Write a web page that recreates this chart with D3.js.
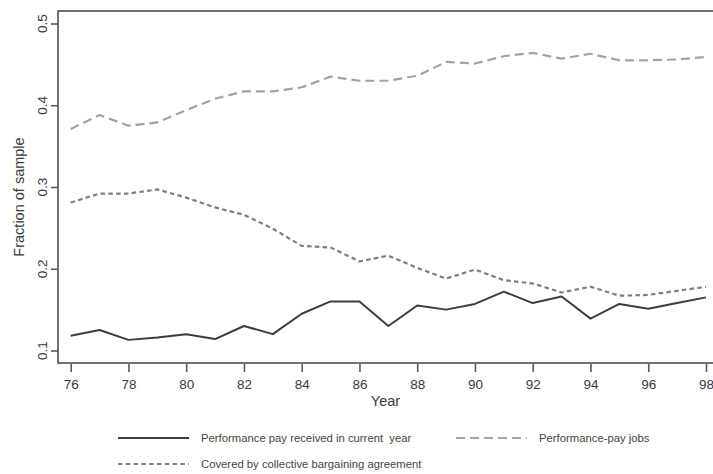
<!DOCTYPE html>
<html>
<head>
<meta charset="utf-8">
<script src="https://cdn.jsdelivr.net/npm/d3@7"></script>
<style>
  html, body { margin: 0; padding: 0; background: #fff; }
  svg { display: block; }
  text { font-family: "Liberation Sans", Arial, Helvetica, sans-serif; }
</style>
</head>
<body>
<svg id="chart" width="713" height="474"></svg>
<script>
// Survey years (19xx)
const years = [76, 77, 78, 79, 80, 81, 82, 83, 84, 85, 86, 87, 88, 89, 90, 91, 92, 93, 94, 95, 96, 97, 98];

// Share of workers in performance-pay jobs
const jobsShare = [0.371, 0.388, 0.375, 0.379, 0.394, 0.408, 0.417, 0.417, 0.422, 0.435, 0.430, 0.430, 0.436,
                   0.453, 0.451, 0.460, 0.464, 0.457, 0.463, 0.455, 0.455, 0.456, 0.459];

// Share covered by a collective bargaining agreement
const unionShare = [0.281, 0.292, 0.292, 0.297, 0.287, 0.275, 0.266, 0.249, 0.228, 0.226, 0.209, 0.216, 0.201,
                    0.188, 0.199, 0.186, 0.182, 0.171, 0.178, 0.167, 0.168, 0.173, 0.178];

// Share receiving performance pay in the current year
const paidShare = [0.118, 0.125, 0.113, 0.116, 0.120, 0.114, 0.130, 0.120, 0.145, 0.160, 0.160, 0.130, 0.155,
                   0.150, 0.157, 0.172, 0.158, 0.166, 0.139, 0.157, 0.151, 0.158, 0.165];

const xTicks = [76, 78, 80, 82, 84, 86, 88, 90, 92, 94, 96, 98];
const yTicks = [0.1, 0.2, 0.3, 0.4, 0.5];

const seriesLabels = [
  "Performance pay received in current  year",
  "Performance-pay jobs",
  "Covered by collective bargaining agreement"
];

const svg = d3.select("#chart");

// Plot region frame and data area
const frame = { left: 58, right: 716, top: 11, bottom: 363 };
const x = d3.scaleLinear().domain([76, 98]).range([70.7, 706]);
const y = d3.scaleLinear().domain([0.1, 0.5]).range([350.5, 23.5]);

const styles = [
  { color: "#3d3d3d", width: 2.0, dash: null },
  { color: "#a3a3a3", width: 2.2, dash: "9,5" },
  { color: "#7d7d7d", width: 2.2, dash: "4.5,3.3" }
];

// Frame
svg.append("rect")
  .attr("x", frame.left).attr("y", frame.top)
  .attr("width", frame.right - frame.left).attr("height", frame.bottom - frame.top)
  .attr("fill", "none").attr("stroke", "#5a5a5a").attr("stroke-width", 1.7);

// X axis
const xAxis = svg.append("g")
  .attr("transform", `translate(0,${frame.bottom + 1})`)
  .call(d3.axisBottom(x).tickValues(xTicks).tickSize(8).tickPadding(7).tickFormat(d3.format("d")));
xAxis.select(".domain").remove();
xAxis.selectAll(".tick line").attr("stroke", "#5a5a5a").attr("stroke-width", 1.6);
xAxis.selectAll(".tick text").attr("fill", "#3a3a3a").attr("font-size", 13.5)
  .attr("font-family", "'Liberation Sans', Arial, sans-serif");

// Y axis: ticks from the axis generator, rotated labels placed with the same scale
const yAxis = svg.append("g")
  .attr("transform", `translate(${frame.left},0)`)
  .call(d3.axisLeft(y).tickValues(yTicks).tickSize(7).tickFormat(""));
yAxis.select(".domain").remove();
yAxis.selectAll(".tick line").attr("stroke", "#5a5a5a").attr("stroke-width", 1.6);

svg.append("g").selectAll("text")
  .data(yTicks)
  .join("text")
  .attr("transform", d => `translate(42,${y(d)}) rotate(-90)`)
  .attr("text-anchor", "middle")
  .attr("dominant-baseline", "central")
  .attr("font-size", 13.5)
  .attr("fill", "#3a3a3a")
  .text(d3.format(".1f"));

// Axis titles
svg.append("text")
  .attr("x", (frame.left + 713) / 2).attr("y", 406)
  .attr("text-anchor", "middle").attr("font-size", 14.5).attr("fill", "#3a3a3a")
  .text("Year");

svg.append("text")
  .attr("transform", `translate(18.5,197) rotate(-90)`)
  .attr("text-anchor", "middle").attr("dominant-baseline", "central")
  .attr("font-size", 14.5).attr("fill", "#3a3a3a")
  .text("Fraction of sample");

// Series lines
const line = d3.line().x(d => x(d.year)).y(d => y(d.v));
const toPoints = vals => years.map((yr, i) => ({ year: yr, v: vals[i] }));
const series = [paidShare, jobsShare, unionShare];
const drawOrder = [1, 2, 0];

drawOrder.forEach(i => {
  svg.append("path")
    .datum(toPoints(series[i]))
    .attr("d", line)
    .attr("fill", "none")
    .attr("stroke", styles[i].color)
    .attr("stroke-width", styles[i].width)
    .attr("stroke-dasharray", styles[i].dash)
    .attr("stroke-linejoin", "round");
});

// Legend
const legendItems = [
  { sx: 118, row: 438 },
  { sx: 456, row: 438 },
  { sx: 118, row: 464 }
];
const legend = svg.append("g");
legendItems.forEach((it, i) => {
  legend.append("line")
    .attr("x1", it.sx).attr("x2", it.sx + 71)
    .attr("y1", it.row).attr("y2", it.row)
    .attr("stroke", styles[i].color)
    .attr("stroke-width", styles[i].width)
    .attr("stroke-dasharray", styles[i].dash);
  legend.append("text")
    .attr("x", it.sx + 83).attr("y", it.row)
    .attr("dominant-baseline", "central")
    .attr("font-size", 11.3).attr("fill", "#444")
    .attr("xml:space", "preserve")
    .style("white-space", "pre")
    .text(seriesLabels[i]);
});
</script>
</body>
</html>
